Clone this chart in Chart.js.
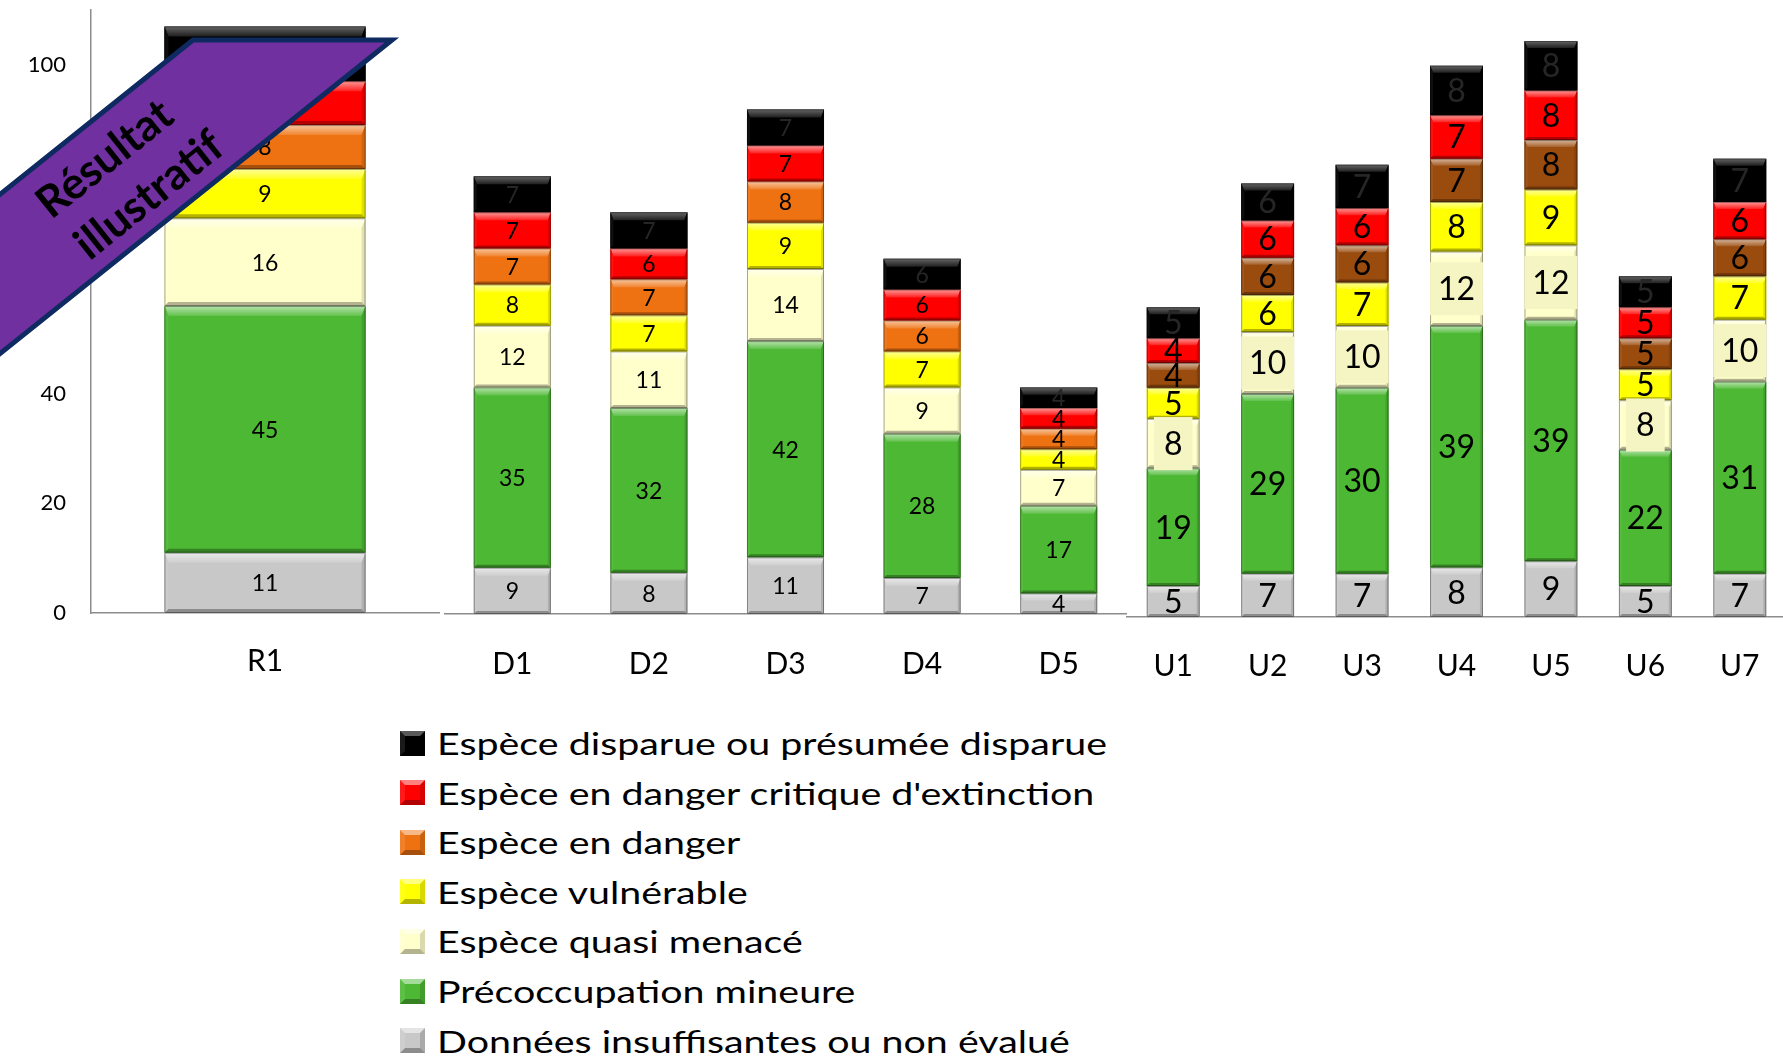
<!DOCTYPE html>
<html><head><meta charset="utf-8">
<script src="https://cdn.jsdelivr.net/npm/chart.js@4.4.1/dist/chart.umd.min.js"></script>
<style>
html,body{margin:0;padding:0;background:#fff;overflow:hidden}
#root{position:relative;width:1783px;height:1059px;overflow:hidden;font-family:Lato,sans-serif;background:#fff}
canvas{position:absolute;top:0}
#legend{position:absolute;left:400px;top:0}
.li{position:absolute;left:0;height:50px;display:flex;align-items:center;white-space:nowrap;font-size:31px;color:#000;font-family:Lato,sans-serif}
.li span{display:inline-block;transform:scaleX(1.27);transform-origin:left center}
.sw{width:25px;height:25px;box-sizing:border-box;margin-right:12px;border-style:solid;border-width:5px}
#banner{position:absolute;left:0;top:0}
</style></head><body><div id="root">
<canvas id="cR" width="440" height="700" style="left:0"></canvas>
<canvas id="cD" width="683" height="700" style="left:444px"></canvas>
<canvas id="cU" width="661" height="700" style="left:1126px"></canvas>
<div id="legend"></div>
<svg id="banner" width="450" height="400">
  <polygon points="193,40 392,40 -108,440 -307,440" fill="#7030A0" stroke="#0E2A60" stroke-width="5" stroke-linejoin="miter"/>
  <g transform="translate(126,176) rotate(-38.66)" font-family="Lato" font-weight="bold" font-size="44" text-anchor="middle" fill="#000">
    <text x="-6" y="-28" dy="0.36em">Résultat</text>
    <text x="6" y="28" dy="0.36em">illustratif</text>
  </g>
</svg>
</div>
<script>
// ---- DATA ----
const categories = ["R1","D1","D2","D3","D4","D5","U1","U2","U3","U4","U5","U6","U7"];
const seriesNames = ["Données insuffisantes ou non évalué","Précoccupation mineure","Espèce quasi menacé","Espèce vulnérable","Espèce en danger","Espèce en danger critique d'extinction","Espèce disparue ou présumée disparue"];
const donnees    = [11, 9, 8,11, 7, 4, 5, 7, 7, 8, 9, 5, 7];
const mineure    = [45,35,32,42,28,17,19,29,30,39,39,22,31];
const quasi      = [16,12,11,14, 9, 7, 8,10,10,12,12, 8,10];
const vulnerable = [ 9, 8, 7, 9, 7, 4, 5, 6, 7, 8, 9, 5, 7];
const danger     = [ 8, 7, 7, 8, 6, 4, 4, 6, 6, 7, 8, 5, 6];
const critique   = [ 8, 7, 6, 7, 6, 4, 4, 6, 6, 7, 8, 5, 6];
const disparue   = [10, 7, 7, 7, 6, 4, 5, 6, 7, 8, 8, 5, 7];
const yTicks = [0,20,40,60,80,100];

// ---- STYLE ----
const baseColors = ["#C8C8C8","#4CB833","#FFFFCC","#FFFF00","#EE7212","#FF0000","#000000"];
const brown = "#9A4B0E";

function shade(hex, amt){
  const n=parseInt(hex.slice(1),16); let r=n>>16,g=(n>>8)&255,b=n&255;
  if(amt>0){r+=(255-r)*amt;g+=(255-g)*amt;b+=(255-b)*amt;}
  else {r*=1+amt;g*=1+amt;b*=1+amt;}
  return `rgb(${Math.round(r)},${Math.round(g)},${Math.round(b)})`;
}

const segPlugin = {
  id:'segs',
  afterDatasetsDraw(chart, args, o){
    const ctx = chart.ctx;
    chart.data.datasets.forEach((ds,i)=>{
      const meta = chart.getDatasetMeta(i);
      meta.data.forEach((el,j)=>{
        const p = el.getProps(['x','y','base','width'], true);
        const l=p.x-p.width/2, r=p.x+p.width/2, t=Math.min(p.y,p.base), b=Math.max(p.y,p.base);
        const h=b-t; if(h<=0) return;
        const col = ds.backgroundColor;
        const bt=Math.min(o.bt,h*0.35), bb=Math.min(o.bb,h*0.2), bs=Math.min(o.bs,p.width*0.2);
        const il=l+bs, ir=r-bs, it=t+bt, ib=b-bb;
        const quad=(pts,fill)=>{ctx.beginPath();ctx.moveTo(pts[0][0],pts[0][1]);for(let k=1;k<pts.length;k++)ctx.lineTo(pts[k][0],pts[k][1]);ctx.closePath();ctx.fillStyle=fill;ctx.fill();};
        ctx.save();
        const g = ctx.createLinearGradient(0,t,0,it);
        g.addColorStop(0, shade(col, col==="#000000"?0.4:0.6));
        g.addColorStop(1, shade(col, 0.12));
        quad([[l,t],[r,t],[ir,it],[il,it]], g);
        quad([[l,t],[il,it],[il,ib],[l,b]], shade(col,0.06));
        quad([[r,t],[ir,it],[ir,ib],[r,b]], shade(col,-0.12));
        quad([[l,b],[il,ib],[ir,ib],[r,b]], shade(col,-0.3));
        ctx.strokeStyle='rgba(0,0,0,0.35)'; ctx.lineWidth=1;
        ctx.strokeRect(l+0.5,t+0.5,p.width-1,h-1);
        ctx.restore();
      });
    });
    // labels
    chart.data.datasets.forEach((ds,i)=>{
      const meta = chart.getDatasetMeta(i);
      meta.data.forEach((el,j)=>{
        const p = el.getProps(['x','y','base','width'], true);
        const cy=(p.y+p.base)/2; const txt=String(ds.data[j]);
        ctx.save();
        ctx.font = `${o.fs}px Lato`;
        ctx.textAlign='center'; ctx.textBaseline='middle';
        if(o.boxSeries===i){
          const w=ctx.measureText(txt).width+20, hh=o.fs*0.72+30;
          ctx.fillStyle='#F5F5C4';
          ctx.fillRect(p.x-Math.min(w,p.width)/2, cy-hh/2, Math.min(w,p.width), hh);
        }
        ctx.fillStyle = ds.backgroundColor==="#000000" ? '#262626' : '#000';
        ctx.fillText(txt, p.x, cy+1);
        ctx.restore();
      });
    });
  }
};

const series = [donnees, mineure, quasi, vulnerable, danger, critique, disparue];

function makePanel(id, prefix, cfg){
  const idx = categories.map((c,i)=>c[0]===prefix?i:-1).filter(i=>i>=0);
  const datasets = series.map((s,k)=>({
    label: seriesNames[k],
    data: idx.map(i=>s[i]),
    backgroundColor: (k===4 && cfg.brown) ? brown : baseColors[k],
    borderWidth:0,
    categoryPercentage:1,
    barPercentage:cfg.bp
  }));
  new Chart(document.getElementById(id), {
    type:'bar',
    data:{labels: idx.map(i=>categories[i]), datasets},
    options:{
      responsive:false, animation:false,
      layout:{padding:{top:10,left:0,right:cfg.right,bottom:0}},
      plugins:{legend:{display:false}, tooltip:{enabled:false}, segs:cfg.seg},
      scales:{
        x:{stacked:true, grid:{display:false,drawTicks:false},
           border:{display:true,color:'#8c8c8c',width:1.5},
           ticks:{font:{family:'Lato',size:30},color:'#000',padding:cfg.xpad},
           afterFit:s=>{s.height=cfg.xh; s.paddingLeft=0; s.paddingRight=0;}},
        y:{stacked:true, min:0, max:cfg.max, display:cfg.showY,
           grid:{display:false,drawTicks:false},
           border:{display:true,color:'#8c8c8c',width:1.5},
           ticks:{font:{family:'Lato',size:22},color:'#000',padding:25},
           afterBuildTicks:s=>{s.ticks=yTicks.map(v=>({value:v}));},
           afterFit:s=>{s.width=cfg.showY?91:0; s.paddingTop=0; s.paddingBottom=0;}}
      }
    },
    plugins:[segPlugin]
  });
}

makePanel('cR','R',{bp:0.578,right:1,max:110,showY:true,xh:87,xpad:30,seg:{bt:10,bb:4,bs:4,fs:23}});
makePanel('cD','D',{bp:0.564,right:0,max:117.3,showY:false,xh:86,xpad:32,seg:{bt:8,bb:3,bs:3,fs:23}});
makePanel('cU','U',{bp:0.56,right:0,max:98,showY:false,xh:83,xpad:31,brown:true,seg:{bt:7,bb:3,bs:3,fs:32,boxSeries:2}});

// legend
const lg = document.getElementById('legend');
for(let k=series.length-1, row=0; k>=0; k--, row++){
  const c = baseColors[k];
  const d = document.createElement('div');
  d.className='li'; d.style.top = (718 + row*49.6) + 'px';
  const sw = document.createElement('div'); sw.className='sw';
  sw.style.background=c;
  sw.style.borderColor = `${shade(c,c==="#000000"?0.35:0.5)} ${shade(c,-0.15)} ${shade(c,-0.3)} ${shade(c,0.1)}`;
  const tx = document.createElement('span'); tx.textContent = seriesNames[k];
  d.appendChild(sw); d.appendChild(tx); lg.appendChild(d);
}
</script>
</body></html>
